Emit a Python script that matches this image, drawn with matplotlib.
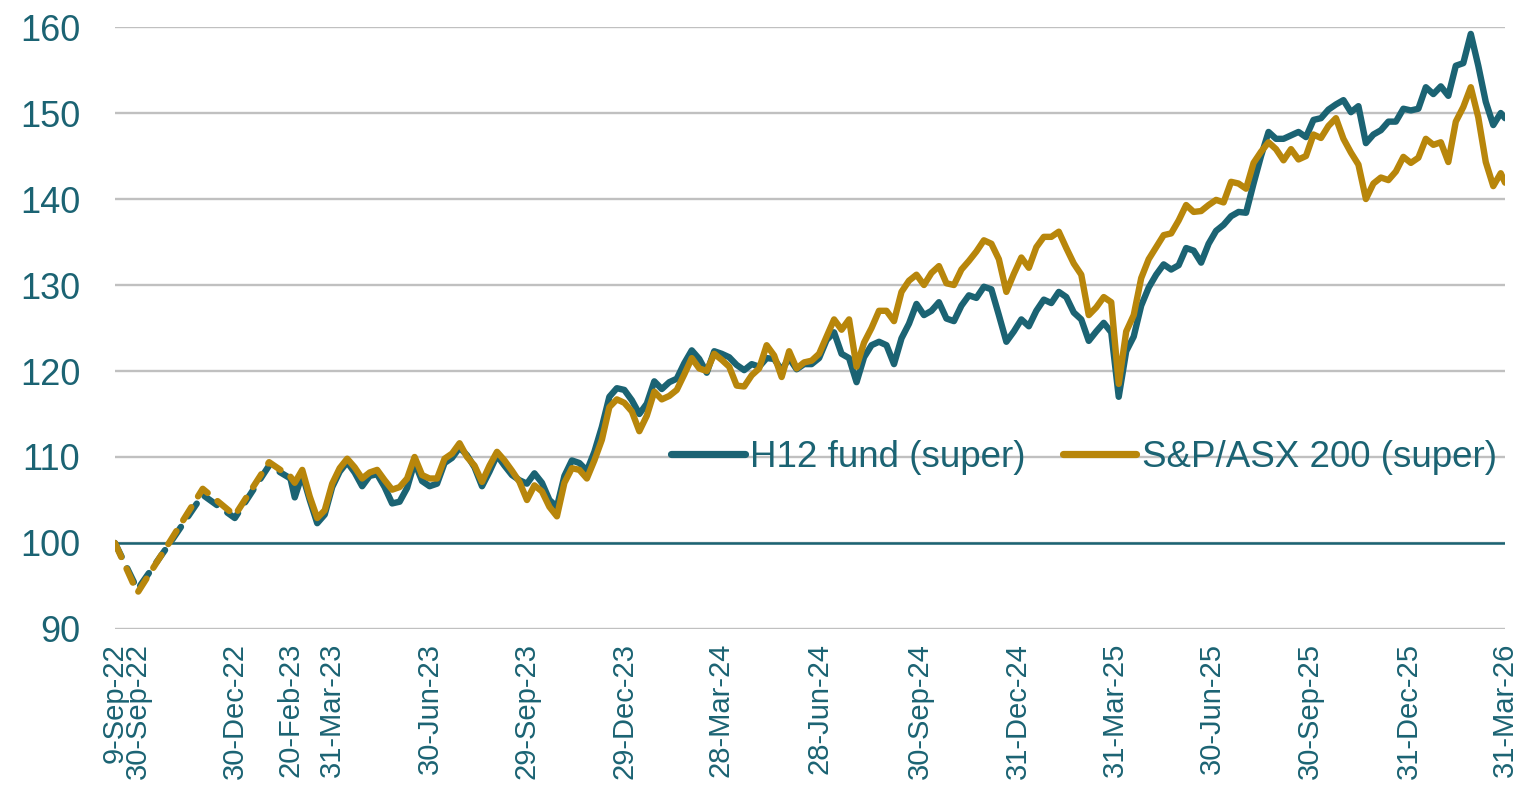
import matplotlib
matplotlib.use('Agg')
import matplotlib.pyplot as plt
import pandas as pd

plt.rcParams['font.family'] = ['Liberation Sans', 'DejaVu Sans']

# --- data --------------------------------------------------------------
# early period (monthly points, drawn dashed)
early_dates = ['2022-09-09', '2022-09-30', '2022-10-31', '2022-11-30',
               '2022-12-30', '2023-01-31', '2023-02-20']
early_h12 = [100.0, 94.6, 100.1, 105.6, 102.9, 109.0, 107.5]
early_asx = [100.0, 94.2, 100.3, 106.3, 103.2, 109.4, 107.7]

# weekly points from 20-Feb-23 to 31-Mar-26 (drawn solid)
weekly = pd.date_range('2023-02-24', periods=162, freq='W-FRI')
dates = pd.DatetimeIndex(['2023-02-20']).append(weekly).append(pd.DatetimeIndex(['2026-03-31']))

h12 = [107.5,
       105.3, 108.0, 105.0, 102.3, 103.3, 106.5, 108.3, 109.4, 108.2, 106.6,
       107.8, 108.0, 106.5, 104.6, 104.8, 106.4, 109.4, 107.2, 106.6, 106.9,
       109.3, 109.9, 111.1, 110.2, 108.8, 106.6, 108.3, 110.2, 109.0, 107.9,
       107.3, 106.9, 108.1, 107.0, 105.0, 104.2, 107.8, 109.6, 109.3, 108.4,
       110.6, 113.5, 117.0, 118.0, 117.8, 116.6, 115.0, 116.2, 118.8, 117.9,
       118.7, 119.1, 120.9, 122.4, 121.4, 119.8, 122.3, 122.0, 121.6, 120.7,
       120.1, 120.8, 120.5, 121.5, 121.4, 120.1, 121.5, 120.2, 120.8, 120.8,
       121.5, 123.6, 124.5, 122.0, 121.5, 118.7, 121.6, 123.0, 123.4, 123.0,
       120.8, 123.8, 125.5, 127.8, 126.5, 127.0, 128.0, 126.1, 125.8, 127.6,
       128.8, 128.5, 129.8, 129.5, 126.5, 123.4, 124.6, 126.0, 125.2, 127.0,
       128.3, 127.9, 129.2, 128.6, 126.8, 126.0, 123.5, 124.6, 125.6, 124.5,
       117.0, 122.3, 124.0, 127.6, 129.7, 131.2, 132.4, 131.8, 132.3, 134.3,
       134.0, 132.6, 134.8, 136.3, 137.0, 138.0, 138.5, 138.4, 141.8, 145.0,
       147.8, 147.0, 147.0, 147.4, 147.8, 147.2, 149.2, 149.4, 150.4, 151.0,
       151.5, 150.1, 150.8, 146.5, 147.5, 148.0, 149.0, 149.0, 150.5, 150.3,
       150.5, 153.0, 152.2, 153.1, 152.0, 155.5, 155.8, 159.2, 155.5, 151.3,
       148.6, 150.0,
       149.4]

asx = [107.7,
       107.0, 108.5, 105.4, 102.9, 103.8, 106.9, 108.7, 109.8, 108.8, 107.5,
       108.2, 108.5, 107.3, 106.2, 106.5, 107.5, 110.0, 107.9, 107.5, 107.5,
       109.8, 110.4, 111.6, 110.0, 109.0, 107.1, 109.0, 110.6, 109.6, 108.4,
       107.1, 105.0, 106.7, 106.0, 104.2, 103.1, 107.0, 108.7, 108.5, 107.5,
       109.6, 112.0, 115.8, 116.7, 116.3, 115.3, 113.0, 114.8, 117.6, 116.7,
       117.1, 117.8, 119.6, 121.5, 120.3, 120.0, 122.0, 121.3, 120.5, 118.3,
       118.2, 119.5, 120.3, 123.0, 121.8, 119.3, 122.3, 120.3, 121.0, 121.2,
       122.0, 124.0, 126.0, 124.8, 126.0, 120.5, 123.3, 125.0, 127.0, 127.0,
       125.8, 129.2, 130.5, 131.2, 130.0, 131.4, 132.2, 130.2, 130.0, 131.8,
       132.8, 133.9, 135.2, 134.8, 133.0, 129.2, 131.3, 133.2, 132.0, 134.4,
       135.6, 135.6, 136.2, 134.3, 132.5, 131.2, 126.5, 127.4, 128.6, 128.0,
       118.5, 124.6, 126.5, 130.8, 133.0, 134.4, 135.8, 136.0, 137.5, 139.3,
       138.5, 138.6, 139.3, 139.9, 139.6, 142.0, 141.8, 141.2, 144.2, 145.5,
       146.6, 145.8, 144.5, 145.8, 144.6, 145.0, 147.5, 147.1, 148.5, 149.4,
       147.0, 145.4, 144.0, 140.0, 141.8, 142.5, 142.2, 143.2, 144.9, 144.2,
       144.8, 147.0, 146.3, 146.6, 144.3, 149.0, 150.7, 153.0, 149.5, 144.3,
       141.5, 143.0,
       141.9]

tick_dates = ['2022-09-09', '2022-09-30', '2022-12-30', '2023-02-20', '2023-03-31',
              '2023-06-30', '2023-09-29', '2023-12-29', '2024-03-28', '2024-06-28',
              '2024-09-30', '2024-12-31', '2025-03-31', '2025-06-30', '2025-09-30',
              '2025-12-31', '2026-03-31']
tick_labels = ['9-Sep-22', '30-Sep-22', '30-Dec-22', '20-Feb-23', '31-Mar-23',
               '30-Jun-23', '29-Sep-23', '29-Dec-23', '28-Mar-24', '28-Jun-24',
               '30-Sep-24', '31-Dec-24', '31-Mar-25', '30-Jun-25', '30-Sep-25',
               '31-Dec-25', '31-Mar-26']

# --- plot ----------------------------------------------------------------
teal = '#1b6373'
gold = '#b8860b'
lw = 4.6

fig = plt.figure(figsize=(15.37, 7.88), dpi=100)
ax = fig.add_axes([0.0748, 0.2018, 0.9044, 0.7639])

early_x = pd.to_datetime(early_dates)
ax.plot(early_x, early_h12, color=teal, lw=lw, dashes=(2.4, 2.0),
        dash_capstyle='round', zorder=3)
ax.plot(early_x, early_asx, color=gold, lw=lw, dashes=(2.4, 2.0),
        dash_capstyle='round', zorder=4)

l1, = ax.plot(dates, h12, color=teal, lw=lw, solid_capstyle='round',
              solid_joinstyle='round', zorder=3, label='H12 fund (super)')
l2, = ax.plot(dates, asx, color=gold, lw=lw, solid_capstyle='round',
              solid_joinstyle='round', zorder=4, label='S&P/ASX 200 (super)')

ax.set_ylim(90, 160)
ax.set_xlim(pd.Timestamp('2022-09-09'), pd.Timestamp('2026-03-31'))
ax.set_yticks(range(90, 161, 10))
ax.grid(axis='y', color='#c0c0c0', lw=1.7)
ax.set_axisbelow(True)
ax.axhline(100, color=teal, lw=1.8, zorder=2)

ax.set_xticks(pd.to_datetime(tick_dates))
ax.set_xticklabels(tick_labels, rotation=90)
ax.tick_params(axis='x', length=0, pad=10, labelsize=21, labelcolor=teal)
ax.tick_params(axis='y', length=0, pad=25, labelsize=26, labelcolor=teal)
for s in ax.spines.values():
    s.set_visible(False)

leg = ax.legend(handles=[l1, l2], loc='center right', bbox_to_anchor=(0.994, 0.2857),
                ncol=2, frameon=False, fontsize=26.5, labelcolor=teal,
                handlelength=2.0, handletextpad=0.15, columnspacing=1.0,
                borderaxespad=0, borderpad=0)
for ln in leg.get_lines():
    ln.set_linewidth(5.2)

fig.savefig('out.png', dpi=100)
